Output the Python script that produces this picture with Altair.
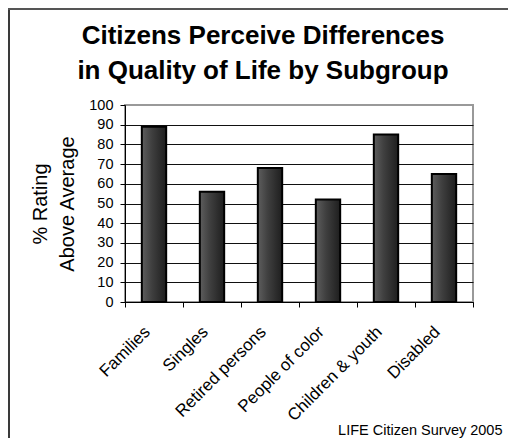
import altair as alt
import pandas as pd

categories = ["Families", "Singles", "Retired persons", "People of color",
              "Children & youth", "Disabled"]
values = [89, 56, 68, 52, 85, 65]
y_ticks = [0, 10, 20, 30, 40, 50, 60, 70, 80, 90, 100]
title_lines = ["Citizens Perceive Differences", "in Quality of Life by Subgroup"]
y_title_lines = ["% Rating", "Above Average"]
source_note = "LIFE Citizen Survey 2005"

FONT = "Liberation Sans"

df = pd.DataFrame({"group": categories, "pct": values})
frame_df = pd.DataFrame({"k": [0]})

bar_fill = alt.Gradient(
    gradient="linear",
    stops=[
        alt.GradientStop(color="#5e5e5e", offset=0),
        alt.GradientStop(color="#404040", offset=0.4),
        alt.GradientStop(color="#1e1e1e", offset=1),
    ],
    x1=0, x2=1, y1=0, y2=0,
)

bars = alt.Chart(df).mark_bar(
    width=alt.RelativeBandSize(0.42),
    fill=bar_fill,
    stroke="black",
    strokeWidth=2,
).encode(
    x=alt.X(
        "group:N",
        sort=categories,
        scale=alt.Scale(paddingInner=0, paddingOuter=0),
        axis=alt.Axis(
            title=source_note,
            titleX=377,
            titleY=132,
            titleAlign="right",
            titleBaseline="alphabetic",
            titleFontSize=14.5,
            titleFontWeight="normal",
            titleFont=FONT,
            titleColor="black",
            labelAngle=-45,
            labelAlign="right",
            labelBaseline="middle",
            labelFontSize=17,
            labelFont=FONT,
            labelColor="black",
            labelPadding=22,
            labelOffset=-7,
            tickBand="extent",
            tickSize=5,
            tickColor="black",
            domainColor="black",
            grid=False,
        ),
    ),
    y=alt.Y(
        "pct:Q",
        scale=alt.Scale(domain=[0, 100], nice=False),
        axis=alt.Axis(
            values=y_ticks,
            title=y_title_lines,
            titleFontSize=20,
            titleFontWeight="normal",
            titleFont=FONT,
            titleColor="black",
            titleLineHeight=27,
            titlePadding=11,
            labelFontSize=14.5,
            labelFont=FONT,
            labelColor="black",
            labelPadding=7,
            tickSize=5,
            tickColor="black",
            domainColor="black",
            grid=True,
            gridColor=alt.condition("datum.value == 100", alt.value("transparent"), alt.value("#111111")),
            gridWidth=1,
        ),
    ),
)

left_rule = alt.Chart(frame_df).mark_rule(color="#3a3a3a", strokeWidth=2).encode(
    x=alt.value(-116), y=alt.value(-96), y2=alt.value(333)
)
top_rule = alt.Chart(frame_df).mark_rule(color="#555555", strokeWidth=2).encode(
    x=alt.value(-117), x2=alt.value(383), y=alt.value(-96)
)

chart = alt.layer(bars, left_rule, top_rule).properties(
    width=348,
    height=197,
    padding={"left": 117, "top": 97, "right": 35, "bottom": 136},
    autosize=alt.AutoSizeParams(type="none"),
    title=alt.TitleParams(
        text=title_lines,
        fontSize=26,
        font=FONT,
        fontWeight="bold",
        lineHeight=35,
        anchor="middle",
        frame="group",
        dx=-36,
        dy=94,
        offset=18,
        color="black",
    ),
).configure_view(stroke="#999999", strokeWidth=2)

chart.save("out.html", embed_options={"renderer": "svg", "actions": False})
